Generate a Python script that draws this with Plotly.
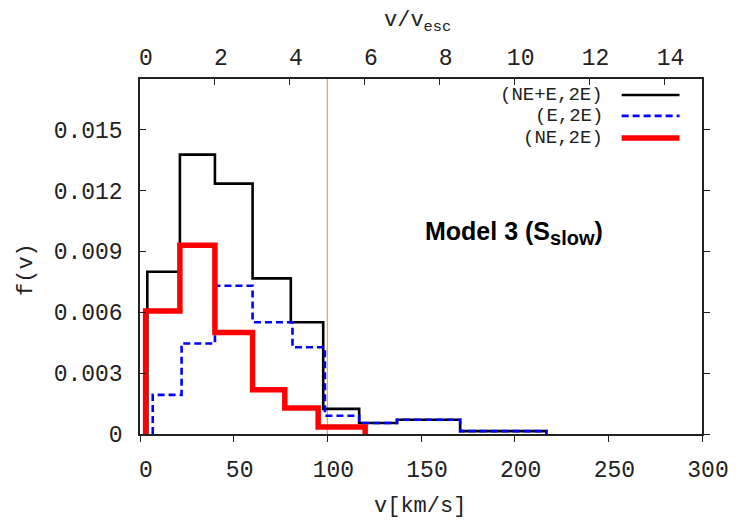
import plotly.graph_objects as go

# ---- data ----
# bin edges [km/s] and bin heights f(v) for each distribution
ne_e_edges = [3.9, 21.3, 40.0, 60.1, 80.5, 97.8, 117.0, 137.2, 170.9, 216.9]
ne_e_vals = [0.0080, 0.01377, 0.01234, 0.00767, 0.00551, 0.00124, 0.00054, 0.00070, 0.00014]

e_edges = [6.8, 22.2, 40.0, 60.1, 81.4, 98.7, 117.0, 137.2, 170.9, 216.9]
e_vals = [0.00193, 0.00446, 0.00731, 0.00551, 0.00428, 0.00090, 0.00054, 0.00070, 0.00014]

ne_edges = [3.0, 21.3, 40.0, 60.1, 77.3, 95.1, 120.2]
ne_vals = [0.00606, 0.00931, 0.00500, 0.00218, 0.00128, 0.00035]

series_names = ["(NE+E,2E)", "(E,2E)", "(NE,2E)"]
v_esc = 20.0          # km/s, so that top axis = v / v_esc
v_line = 100.0        # vertical marker at 5 v_esc

x_ticks = [0, 50, 100, 150, 200, 250, 300]
top_ticks = [0, 2, 4, 6, 8, 10, 12, 14]
y_ticks = [0, 0.003, 0.006, 0.009, 0.012, 0.015]
y_ticktext = ["0", "0.003", "0.006", "0.009", "0.012", "0.015"]

x_range = [0, 300]
y_range = [0, 0.0175]


def step_xy(edges, vals):
    xs = [edges[0]] + list(edges[:-1]) + [edges[-1]]
    ys = [0] + list(vals) + [0]
    return xs, ys


MONO = "Liberation Mono"
TXT = "#222222"

fig = go.Figure()

styles = [
    dict(color="black", width=2.6),
    dict(color="#0000ff", width=2.6, dash="7px,4px"),
    dict(color="#ff0000", width=5.5),
]
data = [(ne_e_edges, ne_e_vals), (e_edges, e_vals), (ne_edges, ne_vals)]

# vertical reference line
fig.add_trace(go.Scatter(x=[v_line, v_line], y=y_range, mode="lines",
                         line=dict(color="#f39a1e", width=1.1),
                         showlegend=False, hoverinfo="skip"))

for (edges, vals), st, nm in zip(data, styles, series_names):
    xs, ys = step_xy(edges, vals)
    fig.add_trace(go.Scatter(x=xs, y=ys, mode="lines", line_shape="hv",
                             line=st, name=nm, showlegend=False))

# dummy trace to activate top / right axes
fig.add_trace(go.Scatter(x=[], y=[], xaxis="x2", yaxis="y2", showlegend=False))

axis_common = dict(showgrid=False, zeroline=False, showline=True,
                   linecolor="#222222", linewidth=1.5, tickcolor="#222222",
                   tickwidth=1.3, ticklen=6,
                   tickfont=dict(family=MONO, size=23, color=TXT))

fig.update_layout(
    width=750, height=525,
    margin=dict(l=140, r=48, t=79, b=91),
    plot_bgcolor="white", paper_bgcolor="white",
    xaxis=dict(range=x_range, tickvals=x_ticks, ticks="outside",
               ticklabelshift=6, ticklabelstandoff=8, **axis_common),
    xaxis2=dict(range=[x_range[0] / v_esc, x_range[1] / v_esc], tickvals=top_ticks,
                overlaying="x", side="top", ticks="inside", anchor="y",
                ticklabelshift=6, ticklabelstandoff=3, **axis_common),
    yaxis=dict(range=y_range, tickvals=y_ticks, ticktext=y_ticktext,
               ticks="inside", ticklabelstandoff=11, **axis_common),
    yaxis2=dict(range=y_range, tickvals=y_ticks, overlaying="y", side="right",
                ticks="outside", showticklabels=False, anchor="x", **axis_common),
)

ann = [
    dict(text="f(v)", x=-0.201, y=0.462, textangle=-90),
    dict(text="v[km/s]", x=0.498, y=-0.205),
    dict(text="v/v<sub>esc</sub>", x=0.494, y=1.16),
]
for a in ann:
    fig.add_annotation(xref="paper", yref="paper", showarrow=False,
                       xanchor="center", yanchor="middle",
                       font=dict(family=MONO, size=22, color=TXT), **a)

fig.add_annotation(xref="paper", yref="paper", x=0.665, y=0.565, showarrow=False,
                   xanchor="center", yanchor="middle",
                   text="<b>Model 3 (S<sub><span style='font-size:20px'>slow</span></sub>)</b>",
                   font=dict(family="Liberation Sans", size=25, color="black"))

# custom legend (text right-aligned, sample line to the right)
leg_y = [0.955, 0.896, 0.834]
for nm, st, yy in zip(series_names, styles, leg_y):
    fig.add_annotation(xref="paper", yref="paper", x=0.828, y=yy,
                       xanchor="right", yanchor="middle",
                       showarrow=False, text=nm,
                       font=dict(family=MONO, size=19, color=TXT))
    fig.add_shape(type="line", xref="paper", yref="paper", x0=0.857, x1=0.96,
                  y0=yy, y1=yy, line=st)

fig.write_html("out.html")
